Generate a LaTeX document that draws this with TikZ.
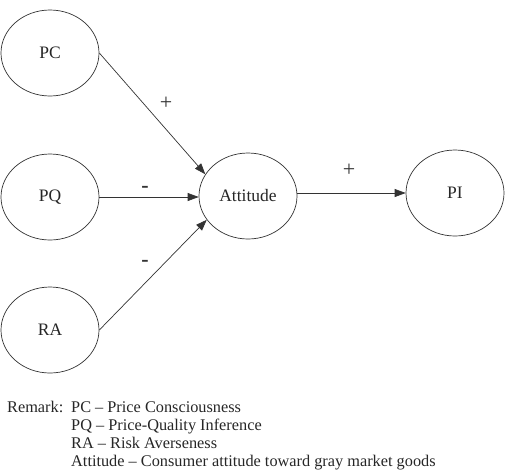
\documentclass[tikz,border=0pt]{standalone}
\usepackage{fontspec}
\setmainfont{Liberation Serif}
\usetikzlibrary{shapes.geometric,arrows.meta}
\begin{document}
\begin{tikzpicture}[x=1pt,y=-1pt,
  construct/.style={ellipse,draw=black!80,line width=0.7pt,minimum width=98pt,minimum height=86pt,inner sep=0pt,font=\fontsize{17.5}{18}\selectfont,text=black!85},
  arrow/.style={draw=black!80,line width=0.7pt,-{Triangle[length=11pt,width=8pt]}},
  plus/.style={font=\fontsize{22}{24}\selectfont,text=black!80,inner sep=0pt},
  minus/.style={font=\bfseries\fontsize{22}{24}\selectfont,text=black!80,inner sep=0pt},
  remark/.style={anchor=base west,inner sep=0pt,font=\fontsize{16.3}{18}\selectfont,text=black!85}]
\useasboundingbox (0,0) rectangle (510,472);
\node[construct] (PC) at (50,53) {PC};
\node[construct] (PQ) at (50,197) {PQ};
\node[construct] (RA) at (50,330) {RA};
\node[construct] (Att) at (248,196) {Attitude};
\node[construct] (PI) at (455,193) {PI};
\draw[arrow] (PC.east) -- (Att.153);
\draw[arrow] (PQ.east) -- (PQ.east -| Att.west);
\draw[arrow] (RA.east) -- (Att.210);
\draw[arrow] (PI.west -| Att.east) -- (PI.west);
\node[plus] (s1) at (166,103) {+};
\node[minus] (s2) at (145,189) {-};
\node[minus] (s3) at (145,263) {-};
\node[plus] (s4) at (349,170) {+};
\node[remark] (r0) at (7,412) {Remark:};
\node[remark] (r1) at (71,412) {PC – Price Consciousness};
\node[remark] (r2) at (71,430) {PQ – Price-Quality Inference};
\node[remark] (r3) at (71,448) {RA – Risk Averseness};
\node[remark] (r4) at (71,466) {Attitude – Consumer attitude toward gray market goods};
\end{tikzpicture}
\end{document}
